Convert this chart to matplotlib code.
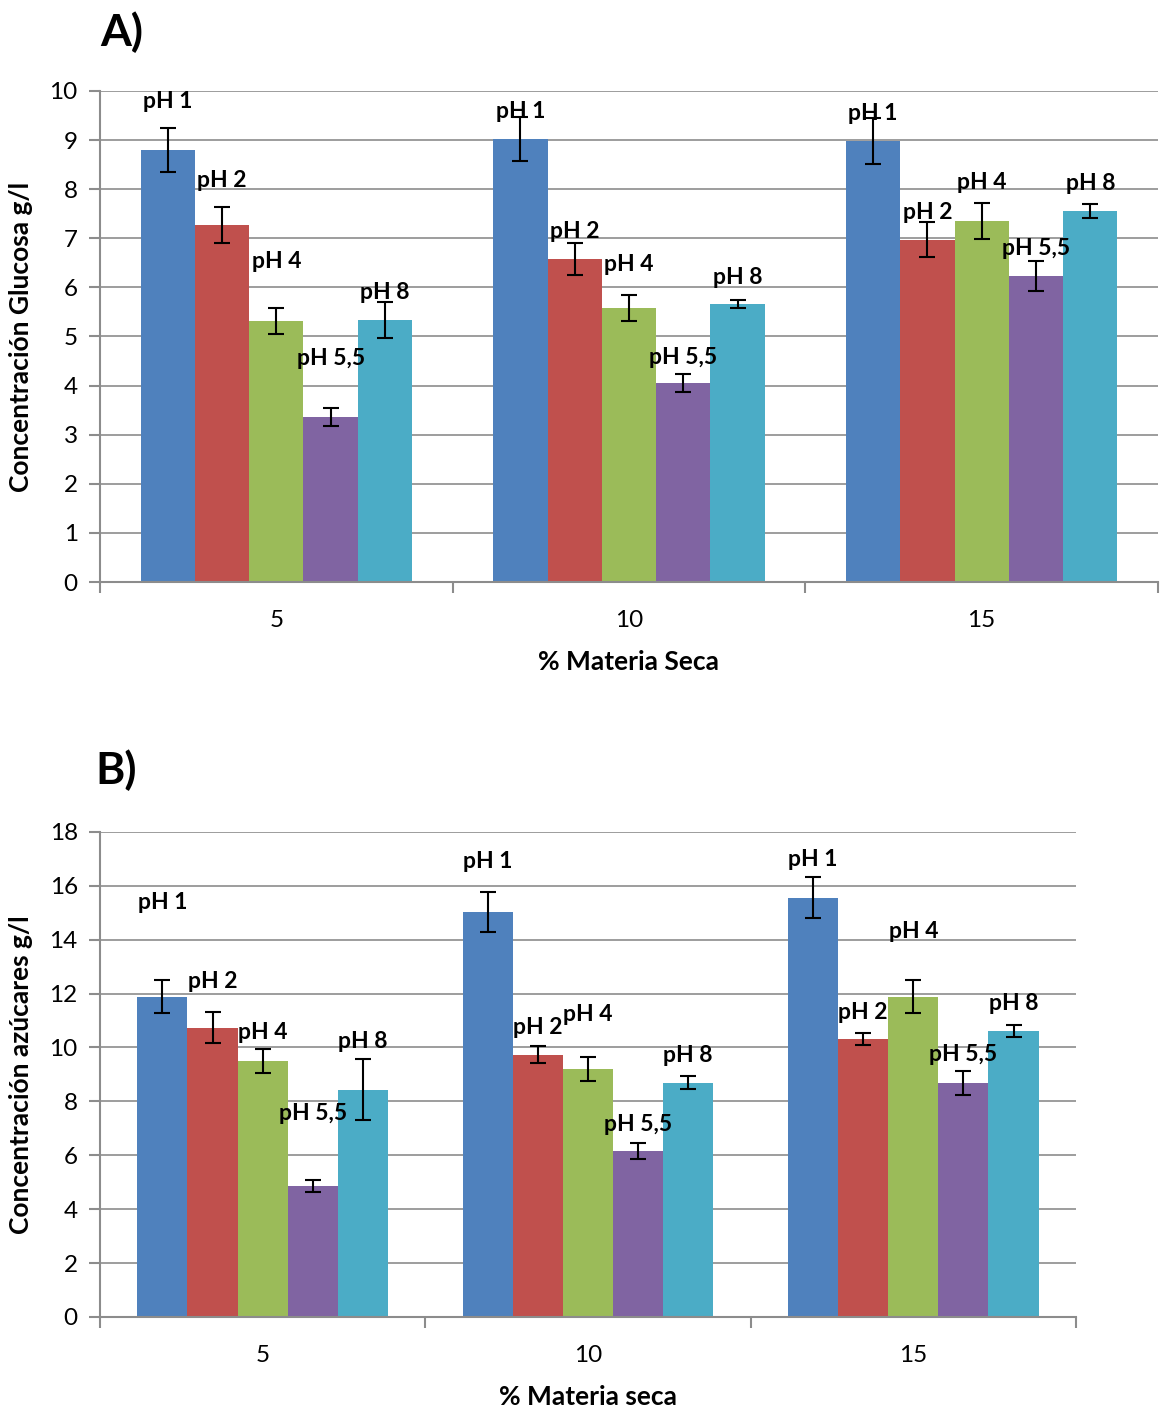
import matplotlib
matplotlib.use("Agg")
import matplotlib.pyplot as plt
import numpy as np

plt.rcParams['font.family'] = ['Lato', 'DejaVu Sans']

categories = ["5", "10", "15"]
series = ["pH 1", "pH 2", "pH 4", "pH 5,5", "pH 8"]
colors = ["#4F81BD", "#C0504D", "#9BBB59", "#8064A2", "#4BACC6"]

# Panel A: glucose g/l  (rows = series, cols = categories)
glu_vals = [
    [8.80, 9.02, 8.98],
    [7.27, 6.58, 6.97],
    [5.32, 5.58, 7.35],
    [3.36, 4.05, 6.23],
    [5.34, 5.66, 7.56],
]
glu_err = [
    [0.45, 0.45, 0.46],
    [0.37, 0.33, 0.36],
    [0.27, 0.27, 0.37],
    [0.18, 0.18, 0.30],
    [0.37, 0.08, 0.14],
]
glu_label_y = [
    [9.78, 9.59, 9.55],
    [8.17, 7.13, 7.52],
    [6.52, 6.46, 8.13],
    [4.56, 4.58, 6.80],
    [5.89, 6.21, 8.11],
]

# Panel B: sugars g/l
sug_vals = [
    [11.88, 15.03, 15.55],
    [10.73, 9.73, 10.32],
    [9.50, 9.21, 11.88],
    [4.86, 6.16, 8.69],
    [8.43, 8.69, 10.62],
]
sug_err = [
    [0.61, 0.74, 0.76],
    [0.58, 0.32, 0.22],
    [0.46, 0.45, 0.61],
    [0.24, 0.30, 0.45],
    [1.13, 0.24, 0.22],
]
sug_label_y = [
    [15.37, 16.89, 16.96],
    [12.43, 10.73, 11.28],
    [10.54, 11.21, 14.29],
    [7.54, 7.16, 9.73],
    [10.21, 9.69, 11.62],
]

fig = plt.figure(figsize=(11.65, 14.10), dpi=100)
axA = fig.add_axes([0.0858, 0.5872, 0.9082, 0.3483])
axB = fig.add_axes([0.0858, 0.0660, 0.8378, 0.3440])

grid_c = "#8C8C8C"
bw = 0.154


def draw(ax, vals, errs, laby, ymax, ystep, xlabel, ylabel):
    x = np.arange(len(categories))
    for i, (v, e, ly) in enumerate(zip(vals, errs, laby)):
        xi = x + (i - 2) * bw
        ax.bar(xi, v, width=bw, color=colors[i], zorder=2, linewidth=0)
        ax.errorbar(xi, v, yerr=e, fmt='none', ecolor='black', elinewidth=1.5,
                    capsize=6, capthick=1.5, zorder=3)
        for xx, yy in zip(xi, ly):
            ax.text(xx, yy, series[i], ha='center', va='center', fontsize=16.5,
                    fontweight='bold', zorder=4)
    ax.set_xlim(-0.5, len(categories) - 0.5)
    ax.set_ylim(0, ymax)
    ax.set_yticks(np.arange(0, ymax + 0.01, ystep))
    ax.yaxis.grid(True, color=grid_c, linewidth=1.2, zorder=0)
    ax.set_axisbelow(True)
    ax.set_xticks(x)
    ax.set_xticklabels(categories)
    ax.set_xticks(np.arange(-0.5, len(categories)), minor=True)
    ax.tick_params(axis='x', which='major', length=0, labelsize=17.5, pad=20)
    ax.tick_params(axis='x', which='minor', length=8, width=1.5, color=grid_c,
                   direction='out')
    ax.tick_params(axis='y', length=8, width=1.5, color=grid_c, labelsize=17.5, pad=8)
    for s in ['top', 'right']:
        ax.spines[s].set_visible(False)
    for s in ['left', 'bottom']:
        ax.spines[s].set_color(grid_c)
        ax.spines[s].set_linewidth(1.5)
    ax.set_xlabel(xlabel, fontsize=19, fontweight='bold', labelpad=14)
    ax.set_ylabel(ylabel, fontsize=19, fontweight='bold', labelpad=12)


draw(axA, glu_vals, glu_err, glu_label_y, 10, 1, "% Materia Seca",
     "Concentración Glucosa g/l")
draw(axB, sug_vals, sug_err, sug_label_y, 18, 2, "% Materia seca",
     "Concentración azúcares g/l")

fig.text(122 / 1165, 1 - 32 / 1410, "A)", fontsize=32, fontweight='bold',
         ha='center', va='center')
fig.text(116 / 1165, 1 - 770 / 1410, "B)", fontsize=32, fontweight='bold',
         ha='center', va='center')

fig.savefig("out.png", dpi=100, facecolor='white')
